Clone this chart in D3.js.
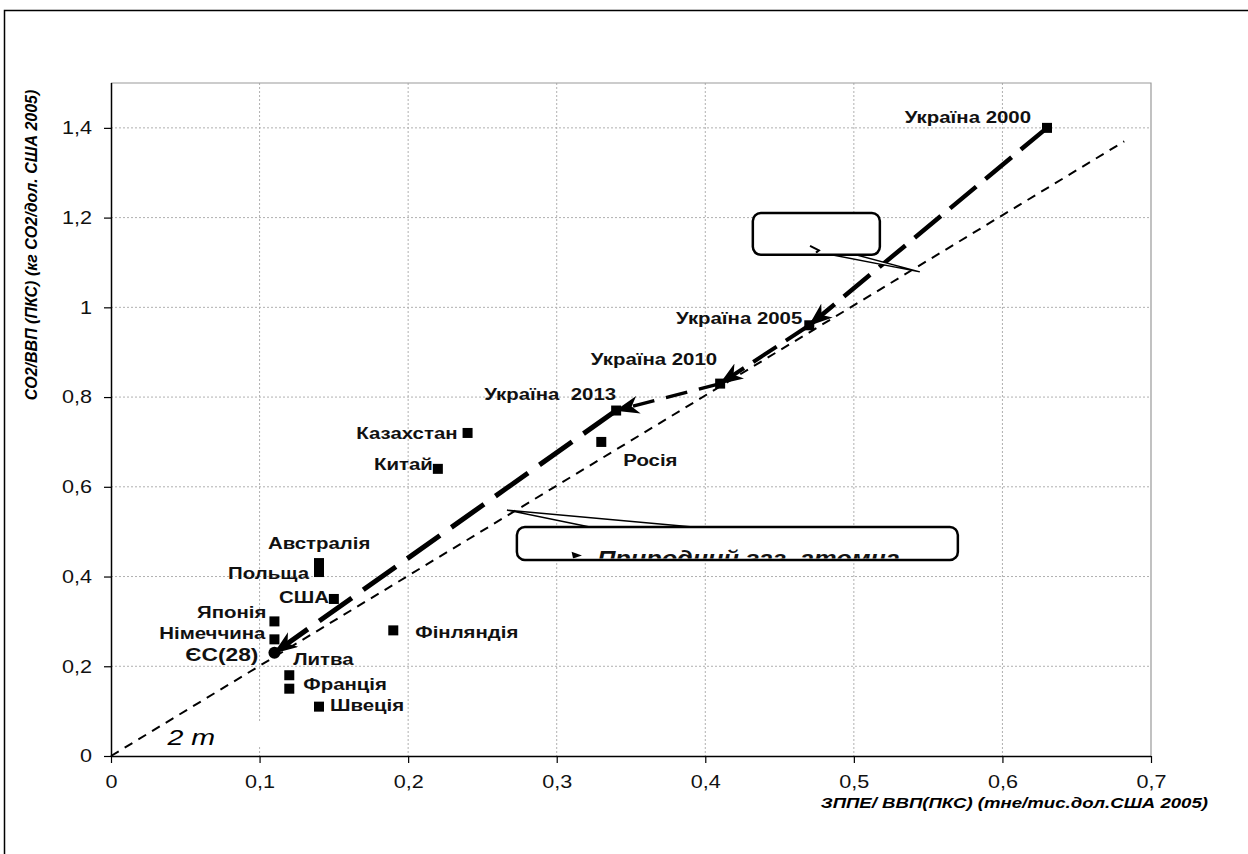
<!DOCTYPE html>
<html>
<head>
<meta charset="utf-8">
<script src="https://cdn.jsdelivr.net/npm/d3@7"></script>
<style>
  body { margin: 0; background: #fff; }
  svg text { font-family: "Liberation Sans", Arial, sans-serif; }
</style>
</head>
<body>
<div id="chart"></div>
<script>
// дані
const labels = ["Україна 2000", "Україна 2005", "Україна 2010", "Україна  2013", "Казахстан", "Китай",
  "Росія", "Австралія", "Польща", "США", "Японія", "Німеччина", "ЄС(28)", "Литва", "Франція", "Швеція", "Фінляндія"];
const energyPerGdp = [0.63, 0.47, 0.41, 0.34, 0.24, 0.22, 0.33, 0.14, 0.14, 0.15, 0.11, 0.11, 0.11, 0.12, 0.12, 0.14, 0.19];
const co2PerGdp = [1.40, 0.96, 0.83, 0.77, 0.72, 0.64, 0.70, 0.43, 0.41, 0.35, 0.30, 0.26, 0.23, 0.18, 0.15, 0.11, 0.28];
const ukrainePath = ["Україна 2000", "Україна 2005", "Україна 2010", "Україна  2013", "ЄС(28)"];
const refLine = [[0, 0], [0.682, 1.37]];
const xTicks = [0, 0.1, 0.2, 0.3, 0.4, 0.5, 0.6, 0.7];
const yTicks = [0, 0.2, 0.4, 0.6, 0.8, 1.0, 1.2, 1.4];
const xTitle = "ЗППЕ/ ВВП(ПКС) (тне/тис.дол.США 2005)";
const yTitle = "CO2/ВВП (ПКС) (кг CO2/дол. США 2005)";
const calloutText = "Природний газ, атомна";
const lineLabel = "2 т";

// розміщення підписів: [dx, dy, anchor]
const labelPos = {
  "Україна 2000": [-16, -5, "end"], "Україна 2005": [-7, -1, "end"], "Україна 2010": [-3, -19, "end"],
  "Україна  2013": [0, -11, "end"], "Казахстан": [-10, 6, "end"], "Китай": [-5, 1, "end"],
  "Росія": [22, 24, "start"], "Австралія": [-51, -14, "start"], "Польща": [-10, 7, "end"],
  "США": [-5, 4, "end"], "Японія": [-8, -3, "end"], "Німеччина": [-9, 0, "end"],
  "ЄС(28)": [-16, 8, "end"], "Литва": [4, -10, "start"], "Франція": [14, 1, "start"],
  "Швеція": [11, 4, "start"], "Фінляндія": [22, 8, "start"]
};

const width = 1248;
const height = 854;
const plot = { left: 111, right: 1151, top: 83, bottom: 756 };
const sx = 1.2; // текст на рисунку розтягнутий по горизонталі

const svg = d3.select("#chart").append("svg")
  .attr("width", width)
  .attr("height", height);

// текст з горизонтальним розтягом
function wideText(parent, px, py, str, k) {
  return parent.append("text")
    .attr("transform", `translate(${px},${py}) scale(${k || sx},1)`)
    .text(str);
}

// зовнішня рамка
svg.append("rect")
  .attr("x", 4.5).attr("y", 10.5)
  .attr("width", 1300).attr("height", 900)
  .attr("fill", "none").attr("stroke", "#000").attr("stroke-width", 1.5);

const x = d3.scaleLinear().domain([0, 0.7]).range([plot.left, plot.right]);
const y = d3.scaleLinear().domain([0, 1.5]).range([plot.bottom, plot.top]);
const fmt = (d) => String(+d.toFixed(1)).replace(".", ",");

// сітка
const grid = svg.append("g");
grid.selectAll(".gx").data(xTicks.slice(1, -1)).enter().append("line")
  .attr("x1", d => x(d)).attr("x2", d => x(d))
  .attr("y1", plot.top).attr("y2", plot.bottom)
  .attr("stroke", "#b0b0b0").attr("stroke-dasharray", "2,2");
grid.selectAll(".gy").data(yTicks.slice(1)).enter().append("line")
  .attr("x1", plot.left).attr("x2", plot.right)
  .attr("y1", d => y(d)).attr("y2", d => y(d))
  .attr("stroke", "#b0b0b0").attr("stroke-dasharray", "2,2");
// верхня і права межі
svg.append("path")
  .attr("d", `M${plot.left},${y(1.5)}H${x(0.7)}V${plot.bottom}`)
  .attr("fill", "none").attr("stroke", "#999").attr("stroke-width", 1.2);

// осі
const xAxis = svg.append("g")
  .attr("transform", `translate(0,${plot.bottom})`)
  .call(d3.axisBottom(x).tickValues(xTicks).tickFormat(fmt).tickSize(7).tickPadding(12));
const yAxis = svg.append("g")
  .attr("transform", `translate(${plot.left},0)`)
  .call(d3.axisLeft(y).tickValues(yTicks).tickFormat(fmt).tickSize(7).tickPadding(12));
[xAxis, yAxis].forEach(a => {
  a.select(".domain").attr("stroke", "#000").attr("stroke-width", 1.5);
  a.selectAll(".tick line").attr("stroke", "#000").attr("stroke-width", 1.2);
  a.selectAll(".tick text").attr("font-size", 18).attr("fill", "#111")
    .attr("font-family", "Liberation Sans, Arial, sans-serif");
});
// розтяг підписів поділок
xAxis.selectAll(".tick text")
  .attr("transform", `scale(${sx},1)`)
  .attr("x", 0);
yAxis.selectAll(".tick text")
  .attr("transform", `translate(-19,0) scale(${sx},1)`)
  .attr("x", 0);
xAxis.select(".domain").attr("d", `M${plot.left},0.5H${plot.right}`);
yAxis.select(".domain").attr("d", `M0.5,${plot.top}V${plot.bottom}`);

// назви осей
svg.append("text")
  .attr("transform", "translate(37,245) rotate(-90)")
  .attr("text-anchor", "middle")
  .attr("font-size", 16).attr("font-weight", "bold").attr("font-style", "italic")
  .text(yTitle);
wideText(svg, 1208, 808, xTitle, 1.2)
  .attr("text-anchor", "end")
  .attr("font-size", 15.5).attr("font-weight", "bold").attr("font-style", "italic");

// опорна лінія
svg.append("line")
  .attr("x1", x(refLine[0][0])).attr("y1", y(refLine[0][1]))
  .attr("x2", x(refLine[1][0])).attr("y2", y(refLine[1][1]))
  .attr("stroke", "#000").attr("stroke-width", 2)
  .attr("stroke-dasharray", "9,7");
svg.append("rect")
  .attr("x", x(0.05)).attr("y", y(0.075))
  .attr("width", x(0.1) - x(0.05) + 2).attr("height", y(0.02) - y(0.075))
  .attr("fill", "#fff");
wideText(svg, x(0.038), y(0.025), lineLabel, 1.3)
  .attr("font-size", 22).attr("font-style", "italic")
  .attr("font-family", "Liberation Serif, serif");

// стрілки
const defs = svg.append("defs");
defs.append("marker")
  .attr("id", "arrow")
  .attr("viewBox", "0 -9 24 18")
  .attr("refX", 23).attr("refY", 0)
  .attr("markerWidth", 24).attr("markerHeight", 18)
  .attr("markerUnits", "userSpaceOnUse")
  .attr("orient", "auto")
  .append("path")
  .attr("d", "M0,-9L24,0L0,9L7,0Z")
  .attr("fill", "#000");

// траєкторія України
const pts = ukrainePath.map(n => {
  const i = labels.indexOf(n);
  return [x(energyPerGdp[i]), y(co2PerGdp[i])];
});
const segStyle = [
  { w: 4.5, dash: "34,12" },
  { w: 4, dash: "28,11" },
  { w: 3.5, dash: "22,12" },
  { w: 5, dash: "40,14" }
];
d3.pairs(pts).forEach((p, i) => {
  svg.append("line")
    .attr("x1", p[0][0]).attr("y1", p[0][1])
    .attr("x2", p[1][0]).attr("y2", p[1][1])
    .attr("stroke", "#000")
    .attr("stroke-width", segStyle[i].w)
    .attr("stroke-dasharray", segStyle[i].dash)
    .attr("marker-end", "url(#arrow)");
});

// точки
labels.forEach((name, i) => {
  const px = x(energyPerGdp[i]);
  const py = y(co2PerGdp[i]);
  if (name === "ЄС(28)") {
    svg.append("circle").attr("cx", px).attr("cy", py).attr("r", 6).attr("fill", "#000");
  } else {
    svg.append("rect").attr("x", px - 5).attr("y", py - 5)
      .attr("width", 10).attr("height", 10).attr("fill", "#000");
  }
  const lp = labelPos[name];
  wideText(svg, px + lp[0], py + lp[1], name)
    .attr("text-anchor", lp[2])
    .attr("font-size", name === "ЄС(28)" ? 19 : 17)
    .attr("font-weight", "bold")
    .style("white-space", "pre")
    .attr("fill", "#111");
});

// виноски
function callout(box, tip, base, clipId) {
  svg.append("path")
    .attr("d", `M${x(base[0])},${y(base[1])}L${x(tip[0])},${y(tip[1])}L${x(base[2])},${y(base[1])}Z`)
    .attr("fill", "#fff").attr("stroke", "#000").attr("stroke-width", 1.5);
  svg.append("rect")
    .attr("x", x(box[0])).attr("y", y(box[1]))
    .attr("width", x(box[2]) - x(box[0])).attr("height", y(box[3]) - y(box[1]))
    .attr("rx", 8)
    .attr("fill", "#fff").attr("stroke", "#000").attr("stroke-width", 2.5);
  defs.append("clipPath").attr("id", clipId).append("rect")
    .attr("x", x(box[0])).attr("y", y(box[1]))
    .attr("width", x(box[2]) - x(box[0])).attr("height", y(box[3]) - y(box[1]) - 1.5);
  return svg.append("g").attr("clip-path", `url(#${clipId})`);
}

const c1 = callout([0.432, 1.21, 0.5175, 1.117], [0.5444, 1.079], [0.479, 1.121, 0.497], "clip1");
c1.append("path")
  .attr("d", `M${x(0.4705)},${y(1.137)}L${x(0.4765)},${y(1.127)}L${x(0.4745)},${y(1.122)}`)
  .attr("fill", "none").attr("stroke", "#000").attr("stroke-width", 2);

const c2 = callout([0.2732, 0.5104, 0.570, 0.4369], [0.2665, 0.548], [0.3223, 0.5104, 0.3917], "clip2");
c2.append("path")
  .attr("d", `M${x(0.310)},${y(0.455)}L${x(0.317)},${y(0.447)}L${x(0.311)},${y(0.440)}Z`)
  .attr("fill", "#000");
wideText(c2, x(0.3272), y(0.424), calloutText, 1.15)
  .attr("font-size", 22).attr("font-weight", "bold").attr("font-style", "italic")
  .attr("fill", "#111");
</script>
</body>
</html>
